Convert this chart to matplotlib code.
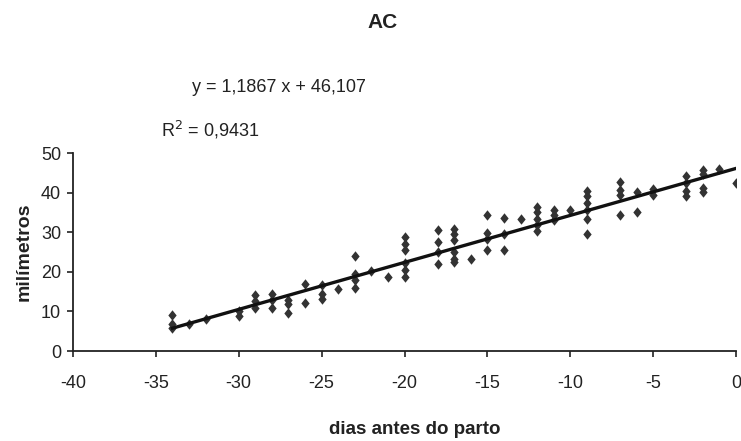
import numpy as np
import matplotlib
matplotlib.use("Agg")
import matplotlib.pyplot as plt
from matplotlib.path import Path

plt.rcParams['font.family'] = ['Liberation Sans Narrow', 'Liberation Sans', 'DejaVu Sans']

days = [-34, -34, -34, -33, -32, -30, -30,
        -29, -29, -29, -28, -28, -28, -27, -27, -27,
        -26, -26, -25, -25, -25, -24,
        -23, -23, -23, -23, -22, -21,
        -20, -20, -20, -20, -20, -20,
        -18, -18, -18, -18,
        -17, -17, -17, -17, -17, -17, -16,
        -15, -15, -15, -15, -14, -14, -14, -13,
        -12, -12, -12, -12, -12, -11, -11, -11, -10,
        -9, -9, -9, -9, -9, -9,
        -7, -7, -7, -7, -6, -6, -5, -5,
        -3, -3, -3, -3, -2, -2, -2, -2, -1, 0]
mm = [9.2, 6.8, 5.7, 6.8, 8.0, 10.0, 8.8,
      14.2, 12.7, 10.8, 14.4, 12.8, 10.8, 13.0, 11.8, 9.7,
      16.9, 12.0, 16.7, 14.4, 13.1, 15.6,
      24.1, 19.5, 17.9, 16.0, 20.2, 18.7,
      28.7, 27.1, 25.5, 22.2, 20.4, 18.8,
      30.5, 27.4, 25.0, 22.0,
      30.9, 29.6, 28.0, 25.1, 23.3, 22.4, 23.3,
      34.3, 29.8, 28.3, 25.6, 33.5, 29.5, 25.5, 33.3,
      36.4, 35.0, 33.4, 31.7, 30.4, 35.5, 34.4, 33.0, 35.5,
      40.5, 39.2, 37.5, 35.5, 33.3, 29.6,
      42.6, 40.6, 39.3, 34.4, 40.2, 35.1, 41.0, 39.4,
      44.2, 42.5, 40.5, 39.2, 45.8, 44.6, 41.2, 40.2, 46.0, 42.3]

slope = 1.1867
intercept = 46.107
r2_text = "0,9431"

x_ticks = [-40, -35, -30, -25, -20, -15, -10, -5, 0]
y_ticks = [0, 10, 20, 30, 40, 50]

# excel-like diamond, a bit taller than wide
diamond = Path([(0, 1), (0.8, 0), (0, -1), (-0.8, 0), (0, 1)],
               [Path.MOVETO, Path.LINETO, Path.LINETO, Path.LINETO, Path.CLOSEPOLY])

fig = plt.figure(figsize=(7.41, 4.41), dpi=100)
ax = fig.add_axes([73 / 741, 1 - 351 / 441, 663 / 741, 198 / 441])

ax.plot(days, mm, linestyle='none', marker=diamond, markersize=7.5,
        color='#333333', markeredgewidth=0, zorder=3)

xs = np.array([min(days), max(days)])
ax.plot(xs, slope * xs + intercept, color='#111111', linewidth=2.4, zorder=4)

ax.set_xlim(-40, 0)
ax.set_ylim(0, 50)
ax.set_xticks(x_ticks)
ax.set_yticks(y_ticks)
ax.set_xticklabels([str(t) for t in x_ticks])
ax.set_yticklabels([str(t) for t in y_ticks])

for side in ('top', 'right'):
    ax.spines[side].set_visible(False)
for side in ('left', 'bottom'):
    ax.spines[side].set_color('#222222')
    ax.spines[side].set_linewidth(1.3)

ax.tick_params(axis='both', direction='out', length=4.5, width=1.2,
               colors='#222222', labelsize=13)
ax.tick_params(axis='x', pad=13)
ax.tick_params(axis='y', pad=4)

ax.set_xlabel('dias antes do parto', fontsize=13.5, fontweight='bold', color='#222222')
ax.xaxis.set_label_coords((415 - 73) / 663, (351 - 421) / 198)
ax.set_ylabel('milímetros', fontsize=14, fontweight='bold', color='#222222')
ax.yaxis.set_label_coords((33 - 73) / 663, 0.5)

fig.text(383 / 741, 1 - 22 / 441, 'AC', fontsize=15, fontweight='bold',
         ha='center', va='center', color='#222222')
fig.text(192 / 741, 1 - 87 / 441, 'y = 1,1867 x + 46,107', fontsize=13,
         ha='left', va='center', color='#222222')
fig.text(161 / 741, 1 - 130 / 441, 'R$^2$ = ' + r2_text, fontsize=13,
         ha='left', va='center', color='#222222')

fig.savefig('out.png', dpi=100)
